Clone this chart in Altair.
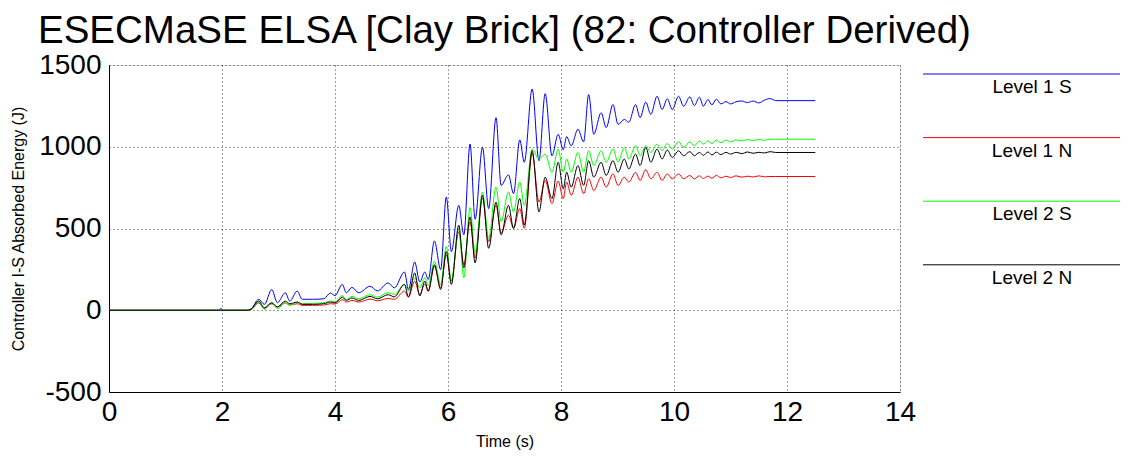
import altair as alt
import pandas as pd

# ---------------- data ----------------
series_names = ["Level 1 S", "Level 1 N", "Level 2 S", "Level 2 N"]
series_colors = ["#0000ff", "#ff0000", "#00ff00", "#000000"]

time_s = [0, 1.95, 1.98, 2.02, 2.45, 2.52, 2.65, 2.75, 2.88, 2.98,
          3.12, 3.2, 3.33, 3.42, 3.6, 3.8, 3.92, 4.0, 4.13, 4.2,
          4.3, 4.42, 4.62, 4.75, 4.94, 5.05, 5.23, 5.3, 5.41, 5.5,
          5.59, 5.65, 5.76, 5.87, 5.97, 6.06, 6.19, 6.28, 6.39, 6.48,
          6.61, 6.72, 6.85, 6.94, 7.07, 7.16, 7.27, 7.35, 7.49, 7.61,
          7.72, 7.84, 7.95, 8.04, 8.1, 8.18, 8.3, 8.4, 8.49, 8.58,
          8.71, 8.8, 8.92, 9.01, 9.12, 9.2, 9.32, 9.4, 9.5, 9.59,
          9.7, 9.79, 9.88, 9.97, 10.08, 10.17, 10.28, 10.36, 10.45, 10.52,
          10.6, 10.67, 10.75, 10.83, 10.92, 11.0, 11.1, 11.2, 11.3, 11.4,
          11.5, 11.6, 11.7, 11.8, 12.5]

level1_s = [0, 0, 12, 0, 0, 10, 67, 36, 127, 46,
            107, 56, 117, 67, 67, 70, 105, 90, 158, 107,
            140, 107, 147, 118, 167, 137, 234, 127, 295, 173,
            234, 188, 424, 248, 693, 359, 642, 461, 1016, 556,
            996, 622, 1178, 764, 828, 713, 1042, 905, 1353, 915,
            1325, 945, 1076, 982, 1062, 1006, 1107, 1030, 1319, 1076,
            1208, 1117, 1258, 1137, 1167, 1150, 1258, 1178, 1273, 1198,
            1309, 1228, 1293, 1228, 1309, 1248, 1305, 1252, 1303, 1248,
            1289, 1256, 1291, 1262, 1276, 1262, 1275, 1280, 1270, 1280,
            1268, 1285, 1295, 1282, 1282]

level1_n = [0, 0, 0, 0, 0, 5, 45, 12, 40, 20,
            45, 32, 40, 30, 30, 32, 40, 38, 65, 50,
            60, 50, 68, 58, 72, 67, 117, 81, 178, 97,
            160, 117, 268, 137, 339, 178, 480, 280, 541, 320,
            687, 420, 642, 471, 582, 501, 622, 501, 960, 662,
            794, 652, 790, 683, 784, 703, 814, 713, 804, 733,
            814, 753, 834, 763, 814, 784, 844, 794, 860, 804,
            844, 794, 834, 804, 834, 804, 824, 804, 822, 806,
            820, 808, 825, 810, 820, 812, 822, 814, 820, 815,
            822, 816, 818, 818, 818]

level2_s = [0, 0, 0, 0, 0, 5, 50, 5, 46, 10,
            46, 30, 50, 40, 42, 46, 56, 50, 90, 65,
            85, 70, 95, 80, 107, 97, 158, 117, 198, 137,
            198, 150, 299, 158, 390, 178, 500, 200, 628, 350,
            723, 440, 753, 541, 723, 602, 784, 642, 986, 925,
            955, 844, 985, 844, 925, 844, 965, 844, 976, 885,
            976, 905, 986, 905, 996, 925, 1006, 945, 1006, 965,
            1016, 976, 1020, 986, 1030, 996, 1030, 1006, 1036, 1016,
            1036, 1020, 1040, 1025, 1040, 1030, 1042, 1035, 1044, 1038,
            1045, 1040, 1046, 1046, 1046]

level2_n = [0, 0, 0, 0, 0, 8, 56, 15, 46, 20,
            56, 40, 50, 36, 36, 40, 50, 45, 80, 60,
            75, 60, 85, 70, 95, 82, 158, 81, 228, 87,
            178, 117, 278, 127, 359, 158, 520, 260, 571, 290,
            703, 379, 662, 461, 642, 501, 683, 521, 976, 602,
            814, 683, 905, 743, 844, 753, 885, 764, 915, 814,
            905, 824, 915, 844, 925, 864, 955, 885, 996, 905,
            986, 925, 980, 935, 975, 945, 970, 945, 965, 948,
            968, 950, 967, 952, 966, 955, 966, 958, 968, 960,
            966, 962, 970, 965, 965]

x_ticks = [0, 2, 4, 6, 8, 10, 12, 14]
y_ticks = [-500, 0, 500, 1000, 1500]

title_text = "ESECMaSE ELSA [Clay Brick] (82: Controller Derived)"
x_title = "Time (s)"
y_title = "Controller I-S Absorbed Energy (J)"

FONT = "Liberation Sans"

# ---------------- build table ----------------
rows = []
for name, vals in zip(series_names, [level1_s, level1_n, level2_s, level2_n]):
    assert len(vals) == len(time_s), name
    for i, (t, v) in enumerate(zip(time_s, vals)):
        rows.append({"series": name, "time": t, "energy": v, "idx": i})
df = pd.DataFrame(rows)

PAD_TOP = 57
W, H = 791, 327

color_scale = alt.Scale(domain=series_names, range=series_colors)

lines = alt.Chart(df).mark_line(strokeWidth=1, interpolate="monotone").encode(
    x=alt.X("time:Q",
            scale=alt.Scale(domain=[0, 14], nice=False, zero=False),
            axis=alt.Axis(values=x_ticks, title=x_title,
                          labelExpr="'' + datum.value",
                          labelFontSize=28, labelFont=FONT, labelColor="#000",
                          labelPadding=6, ticks=False,
                          titleFontSize=16, titleFont=FONT, titleFontWeight="normal",
                          titleColor="#000", titleY=49, titleBaseline="middle",
                          domainColor="#000", domainWidth=1,
                          grid=True, gridColor="#000", gridDash=[1, 3], gridOpacity=0.75,
                          labelOverlap=False, labelFlush=False)),
    y=alt.Y("energy:Q",
            scale=alt.Scale(domain=[-500, 1500], nice=False, zero=False),
            axis=alt.Axis(values=y_ticks, title=y_title,
                          labelExpr="'' + datum.value",
                          labelFontSize=28, labelFont=FONT, labelColor="#000",
                          labelPadding=8, ticks=False,
                          titleFontSize=16, titleFont=FONT, titleFontWeight="normal",
                          titleColor="#000", titleX=-91, titleBaseline="middle",
                          domainColor="#000", domainWidth=1,
                          grid=True, gridColor="#000", gridDash=[1, 3], gridOpacity=0.75,
                          labelOverlap=False, labelFlush=False)),
    color=alt.Color("series:N", scale=color_scale, legend=None),
    order=alt.Order("idx:Q"),
)

layers = [lines]

# chart title (placed as text so its baseline can be set exactly)
layers.append(alt.Chart(pd.DataFrame({"t": [title_text]})).mark_text(
    align="left", baseline="alphabetic", fontSize=38.5, font=FONT, color="#000"
).encode(x=alt.value(-71), y=alt.value(-21.8), text="t:N"))

# custom legend: line with label centred underneath (MATLAB-like)
leg_x0, leg_x1, leg_xc = 814, 1011, 923
leg_y0, leg_dy = 9, 63.6
for k, (name, col) in enumerate(zip(series_names, series_colors)):
    ldf = pd.DataFrame({"series": [name]})
    yy = leg_y0 + k * leg_dy
    layers.append(alt.Chart(ldf).mark_rule(color=col, strokeWidth=1).encode(
        x=alt.value(leg_x0), x2=alt.value(leg_x1), y=alt.value(yy)))
    layers.append(alt.Chart(ldf).mark_text(align="center", baseline="middle",
                                           fontSize=19, font=FONT, color="#000").encode(
        x=alt.value(leg_xc), y=alt.value(yy + 13), text="series:N"))

chart = alt.layer(*layers).properties(
    width=W, height=H,
    autosize=alt.AutoSizeParams(type="none"),
    padding={"left": 101, "top": PAD_TOP, "right": 220, "bottom": 64},
).configure_view(strokeWidth=0).configure(background="white")

chart.save("out.html", embed_options={"renderer": "svg", "actions": False})
